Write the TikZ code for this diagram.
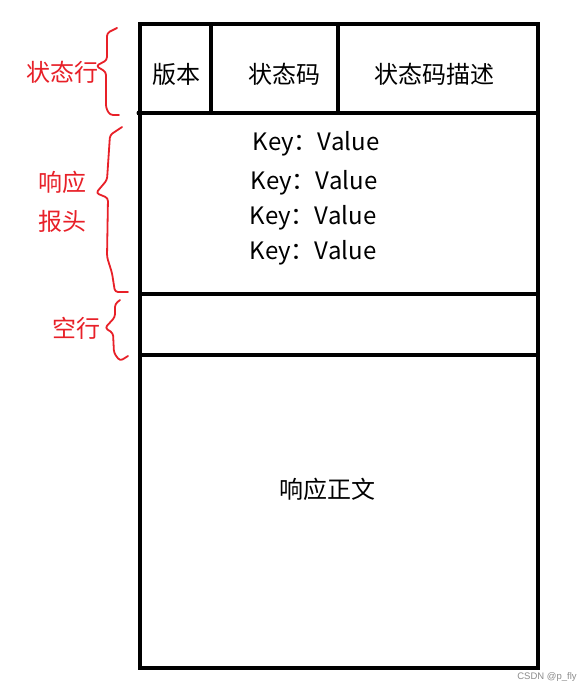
\documentclass[tikz,border=0pt]{standalone}
\usepackage{fontspec}
\setmainfont{Noto Sans CJK SC}
\newfontfamily\wmfont{Liberation Sans}
\definecolor{bracered}{RGB}{232,32,40}
\begin{document}
\begin{tikzpicture}[x=1pt,y=-1pt,
  frame/.style={line width=4pt, line cap=rect},
  cell/.style={font=\fontsize{24}{28}\selectfont, inner sep=0pt},
  kv/.style={font=\fontsize{24}{28}\selectfont, inner sep=0pt},
  lab/.style={font=\fontsize{24}{28}\selectfont, text=bracered, inner sep=0pt},
  brace/.style={draw=bracered, line width=1.8pt, rounded corners=3pt, line cap=round, line join=round}]
\useasboundingbox (0,0) rectangle (579,693);
\fill[white] (0,0) rectangle (579,693);
% frame
\draw[frame] (140,24) rectangle (538,668);
\draw[frame] (140,113) -- (538,113);
\draw[frame] (140,294) -- (538,294);
\draw[frame] (140,355) -- (538,355);
\draw[frame] (211,24) -- (211,113);
\draw[frame] (338,24) -- (338,113);
\fill (139,113) circle (2.5pt);
% status line
\node[cell] (ver) at (176,74) {版本};
\node[cell] (code) at (284,74) {状态码};
\node[cell] (desc) at (434,74) {状态码描述};
% headers
\node[kv] (k1) at (316,144) {Key：Value};
\node[kv] (k2) at (314,183) {Key：Value};
\node[kv] (k3) at (313,218) {Key：Value};
\node[kv] (k4) at (313,253) {Key：Value};
% body
\node[cell] (body) at (327,489) {响应正文};
% labels
\node[lab] (l1) at (62,72) {状态行};
\node[lab] (l2) at (62,182) {响应};
\node[lab] (l3) at (62,221) {报头};
\node[lab] (l4) at (76,328) {空行};
% braces
\draw[brace] (117,28) -- (107,33) -- (107,60) -- (96,66) -- (106,72) -- (106,108) -- (110,115) -- (119,115);
\draw[brace] (122,127) -- (110,135) -- (107,180) -- (96,193) -- (108,198) -- (107,257) -- (112,273) -- (115,292) -- (128,292);
\draw[brace] (120,300) -- (115,304) -- (115,317) -- (105,328) -- (113,333) -- (114,353) -- (120,361) -- (128,356);
% watermark
\node[font=\wmfont\fontsize{9.5}{10}\selectfont, text=black!45, inner sep=0pt] (wm) at (547,677) {CSDN @p\_fly};
\end{tikzpicture}
\end{document}
